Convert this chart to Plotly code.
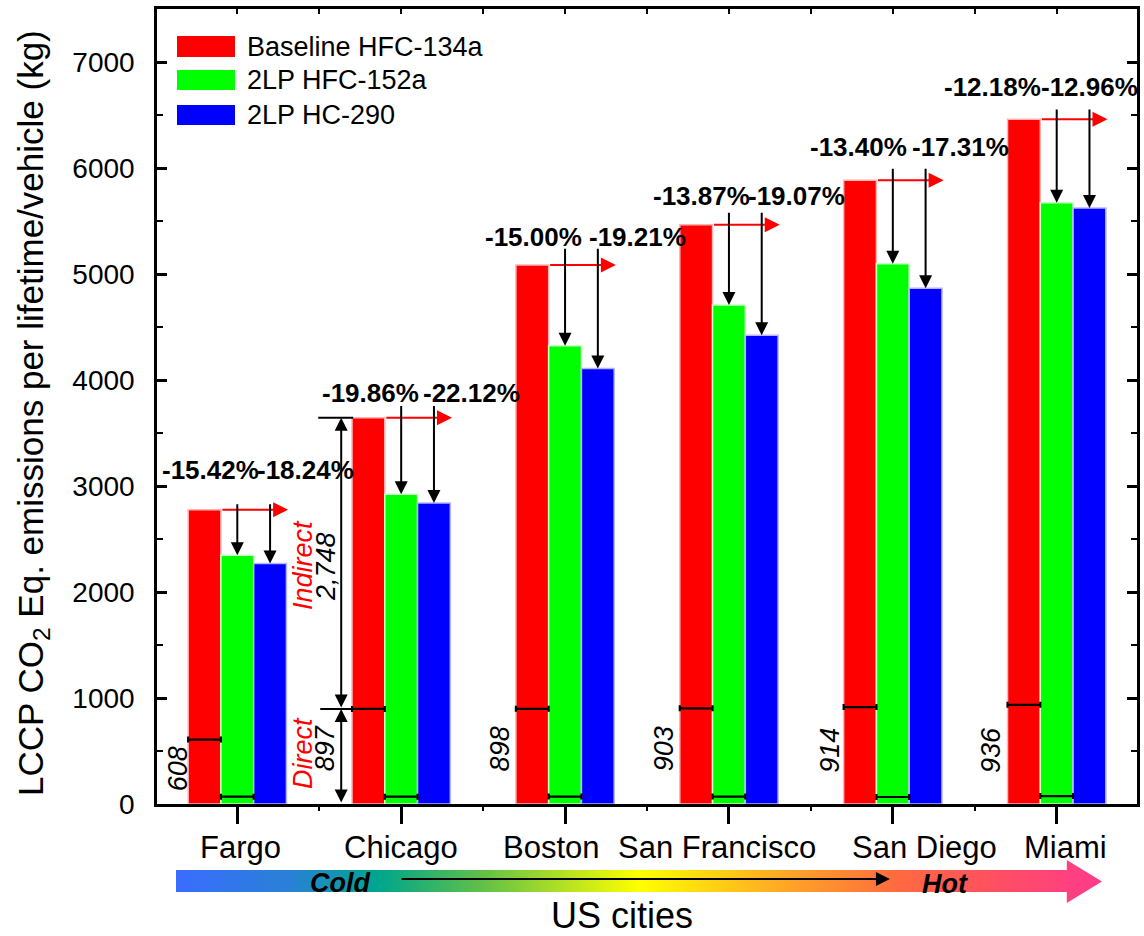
import plotly.graph_objects as go

# ---------------- data ----------------
cities = ["Fargo", "Chicago", "Boston", "San Francisco", "San Diego", "Miami"]
series_names = ["Baseline HFC-134a", "2LP HFC-152a", "2LP HC-290"]
baseline = [2775, 3645, 5085, 5465, 5885, 6460]
hfc152a = [2347, 2921, 4322, 4707, 5096, 5673]
hc290 = [2269, 2839, 4108, 4423, 4866, 5623]
pct_152a = ["-15.42%", "-19.86%", "-15.00%", "-13.87%", "-13.40%", "-12.18%"]
pct_290 = ["-18.24%", "-22.12%", "-19.21%", "-19.07%", "-17.31%", "-12.96%"]
direct_baseline = [608, 897, 898, 903, 914, 936]
direct_152a = [69, 69, 70, 70, 66, 75]
chicago_direct = 897
chicago_indirect = 2748
y_ticks = [0, 1000, 2000, 3000, 4000, 5000, 6000, 7000]

# ---------------- styling / layout helpers ----------------
FONT = "Liberation Sans, Arial, sans-serif"
W, H = 1144, 936
ML, MR, MT, MB = 157, 7, 9, 0
PW, PH = W - ML - MR, H - MT - MB
AX_BOTTOM = 804


def pxx(px):
    return (px - ML) / PW


def pxy(py):
    return (H - py) / PH


idx = list(range(len(cities)))
colors = ["#ff0000", "#00ff00", "#0000ff"]
edge = ["#ffb4b4", "#c8ffc8", "#b4b4ff"]

fig = go.Figure()
for vals, name, c, e in zip([baseline, hfc152a, hc290], series_names, colors, edge):
    fig.add_trace(go.Bar(x=idx, y=vals, name=name, marker=dict(color=c, line=dict(color=e, width=1.5)),
                         showlegend=False))

# direct-emission markers (horizontal bars with caps)
fig.add_trace(go.Scatter(x=[i - 0.2 for i in idx], y=direct_baseline, mode="markers",
                         marker=dict(size=1, color="black"), showlegend=False,
                         error_x=dict(type="constant", value=0.1, color="black", thickness=2.2, width=3)))
fig.add_trace(go.Scatter(x=idx, y=direct_152a, mode="markers",
                         marker=dict(size=1, color="black"), showlegend=False,
                         error_x=dict(type="constant", value=0.1, color="black", thickness=2.2, width=3)))

# invisible trace so the top tick axis is drawn
fig.add_trace(go.Scatter(x=[0], y=[0], xaxis="x3", yaxis="y", mode="markers",
                         marker=dict(size=1, color="rgba(0,0,0,0)"), showlegend=False, hoverinfo="skip"))

# gradient "Cold -> Hot" arrow on a helper axis
gx = [0, 0.962, 0.962, 1.0, 0.962, 0.962, 0, 0]
gy = [0.256, 0.256, 0.0, 0.5, 1.0, 0.767, 0.767, 0.256]
fig.add_trace(go.Scatter(x=gx, y=gy, xaxis="x2", yaxis="y2", mode="lines", fill="toself",
                         line=dict(width=0, color="rgba(0,0,0,0)"), showlegend=False, hoverinfo="skip",
                         fillgradient=dict(type="horizontal", colorscale=[
                             [0.0, "#3a6cff"], [0.12, "#2a80d8"], [0.22, "#00a68c"],
                             [0.33, "#60c048"], [0.50, "#ffff00"], [0.67, "#ffa028"],
                             [0.78, "#ff6a40"], [0.88, "#ff5060"], [1.0, "#ff3a8c"]])))

ann = []
shapes = []

# percentage labels and arrows
lab_dy = [380, 237, 261, 268, 311, 303]
lab_dx_g = [-0.165, -0.19, -0.195, -0.165, -0.21, -0.39]
lab_dx_b = [0.415, 0.43, 0.44, 0.415, 0.41, 0.2]
arrow_pad = [68, 124, 167, 127, 122, 105]
for i in idx:
    r = baseline[i]
    for dx, txt in [(lab_dx_g[i], pct_152a[i]), (lab_dx_b[i], pct_290[i])]:
        ann.append(dict(x=i + dx, y=r + lab_dy[i], text="<b>%s</b>" % txt, showarrow=False,
                        xanchor="center", yanchor="middle",
                        font=dict(size=26, family=FONT, color="black"), xref="x", yref="y"))
    # red horizontal arrow at baseline level
    ann.append(dict(x=i + 0.31, y=r, ax=i - 0.1, ay=r, xref="x", yref="y", axref="x", ayref="y",
                    showarrow=True, arrowhead=2, arrowsize=1.5, arrowwidth=2, arrowcolor="#ff0000",
                    text="", standoff=0, startstandoff=0))
    # black arrows down to the alternatives
    for xo, v in [(0.0, hfc152a[i]), (0.2, hc290[i])]:
        ann.append(dict(x=i + xo, y=v, ax=i + xo, ay=r + arrow_pad[i], xref="x", yref="y",
                        axref="x", ayref="y", showarrow=True, arrowhead=2, arrowsize=1.3,
                        arrowwidth=2, arrowcolor="black", text="", standoff=0, startstandoff=0))

# direct values (rotated)
dval_dx = [-0.36, -0.463, -0.40, -0.40, -0.385, -0.40]
dval_y = [330, 529, 520, 520, 510, 510]
for i in idx:
    ann.append(dict(x=i + dval_dx[i], y=dval_y[i], text="<i>%d</i>" % direct_baseline[i], showarrow=False,
                    xanchor="center", yanchor="middle",
                    textangle=-90, font=dict(size=27, family=FONT, color="black"), xref="x", yref="y"))

# Chicago breakdown: Direct / Indirect
ci = 1
xa = ci - 0.366
for xx, yy, txt, col in [(ci - 0.598, 482, "<i>Direct</i>", "#ff0000"),
                         (ci - 0.598, 2257, "<i>Indirect</i>", "#ff0000"),
                         (ci - 0.463, 2239, "<i>%s</i>" % format(chicago_indirect, ","), "black")]:
    ann.append(dict(x=xx, y=yy, text=txt, showarrow=False, textangle=-90, xanchor="center",
                    yanchor="middle", font=dict(size=27, family=FONT, color=col), xref="x", yref="y"))
ann.append(dict(x=xa, y=chicago_direct, ax=xa, ay=0, xref="x", yref="y", axref="x", ayref="y",
                showarrow=True, arrowhead=2, arrowside="end+start", arrowsize=1.3, arrowwidth=2,
                arrowcolor="black", text="", standoff=0, startstandoff=0))
ann.append(dict(x=xa, y=chicago_direct + chicago_indirect, ax=xa, ay=chicago_direct, xref="x", yref="y",
                axref="x", ayref="y", showarrow=True, arrowhead=2, arrowside="end+start", arrowsize=1.3,
                arrowwidth=2, arrowcolor="black", text="", standoff=0, startstandoff=0))
shapes.append(dict(type="line", xref="x", yref="y", x0=ci - 0.506, x1=ci - 0.293,
                   y0=chicago_direct + chicago_indirect, y1=chicago_direct + chicago_indirect,
                   line=dict(color="black", width=2)))
shapes.append(dict(type="line", xref="x", yref="y", x0=ci - 0.494, x1=ci - 0.293,
                   y0=chicago_direct, y1=chicago_direct, line=dict(color="black", width=2)))

# category labels
cat_dx = [0.02, 0.0, -0.085, -0.07, 0.195, 0.055]
for i, c in enumerate(cities):
    ann.append(dict(x=i + cat_dx[i], y=pxy(847), xref="x", yref="paper", text=c, showarrow=False,
                    font=dict(size=31, family=FONT, color="black"), xanchor="center", yanchor="middle"))

# x title
ann.append(dict(x=pxx(622), y=pxy(915), xref="paper", yref="paper", text="US cities", showarrow=False,
                xanchor="center", yanchor="middle",
                font=dict(size=36, family=FONT, color="black")))
# y title
ann.append(dict(x=pxx(33), y=pxy(413), xref="paper", yref="paper",
                text="LCCP CO<sub>2</sub> Eq. emissions per lifetime/vehicle (kg)", showarrow=False,
                xanchor="center", yanchor="middle",
                textangle=-90, font=dict(size=35, family=FONT, color="black")))

# Cold / Hot
ann.append(dict(x=0.177, y=0.47, xref="x2", yref="y2", text="<b><i>Cold</i></b>", showarrow=False,
                xanchor="center", yanchor="middle", font=dict(size=27, family=FONT, color="black")))
ann.append(dict(x=0.830, y=0.45, xref="x2", yref="y2", text="<b><i>Hot</i></b>", showarrow=False,
                xanchor="center", yanchor="middle", font=dict(size=27, family=FONT, color="black")))
ann.append(dict(x=0.771, y=0.56, ax=0.242, ay=0.56, xref="x2", yref="y2", axref="x2", ayref="y2",
                showarrow=True, arrowhead=2, arrowsize=1.4, arrowwidth=2, arrowcolor="black", text="",
                standoff=0, startstandoff=0))

# custom legend
leg_rows = [(36, 57), (70, 90), (105, 125)]
for (t, b), name, c in zip(leg_rows, series_names, colors):
    shapes.append(dict(type="rect", xref="paper", yref="paper", x0=pxx(177), x1=pxx(235),
                       y0=pxy(b), y1=pxy(t), fillcolor=c, line=dict(width=0)))
    ann.append(dict(x=pxx(245), y=pxy((t + b) / 2), xref="paper", yref="paper", text=name,
                    showarrow=False, xanchor="left", yanchor="middle",
                    font=dict(size=27, family=FONT, color="black")))

ydom0 = pxy(AX_BOTTOM)
fig.update_layout(
    width=W, height=H, margin=dict(l=ML, r=MR, t=MT, b=MB, pad=0, autoexpand=False),
    paper_bgcolor="white", plot_bgcolor="white",
    barmode="group", bargap=0.4, bargroupgap=0.0,
    font=dict(family=FONT, color="black"),
    showlegend=False,
    xaxis=dict(range=[-0.49, 5.49], tickvals=idx, showticklabels=False, ticks="outside", ticklen=17,
               tickwidth=2.5, tickcolor="black", showline=True, linewidth=2.5, linecolor="black",
               mirror=True, showgrid=False, zeroline=False, domain=[0, 1], anchor="y", automargin=False,
               minor=dict(tickvals=[0.5, 1.5, 2.5, 3.5, 4.5], ticks="outside", ticklen=4, tickwidth=2,
                          tickcolor="black")),
    yaxis=dict(range=[0, 7500], domain=[ydom0, 1], tickvals=y_ticks, ticks="inside", ticklen=10,
               tickwidth=2.5, tickcolor="black", showline=True, linewidth=2.5, linecolor="black",
               mirror="ticks", showgrid=False, zeroline=False, anchor="x", automargin=False,
               tickfont=dict(size=28, family=FONT, color="black"), ticklabelstandoff=14,
               minor=dict(tickvals=[500, 1500, 2500, 3500, 4500, 5500, 6500, 7500], ticks="inside",
                          ticklen=6, tickwidth=2, tickcolor="black")),
    xaxis3=dict(overlaying="x", side="top", anchor="y", range=[-0.49, 5.49], automargin=False,
                tickvals=[0, 0.5, 1, 1.5, 2, 2.5, 3, 3.5, 4, 4.5, 5], ticks="inside", ticklen=5,
                tickwidth=2, tickcolor="black", showticklabels=False, showline=False, showgrid=False,
                zeroline=False),
    xaxis2=dict(domain=[pxx(176), pxx(1102)], range=[0, 1], visible=False, anchor="y2", fixedrange=True,
                automargin=False),
    yaxis2=dict(domain=[pxy(903), pxy(860)], range=[0, 1], visible=False, anchor="x2", fixedrange=True,
                automargin=False),
    annotations=ann, shapes=shapes,
)

fig.write_html("out.html", config={"displayModeBar": False},
               post_script="document.body.style.margin='0px';document.body.style.overflow='hidden';")
